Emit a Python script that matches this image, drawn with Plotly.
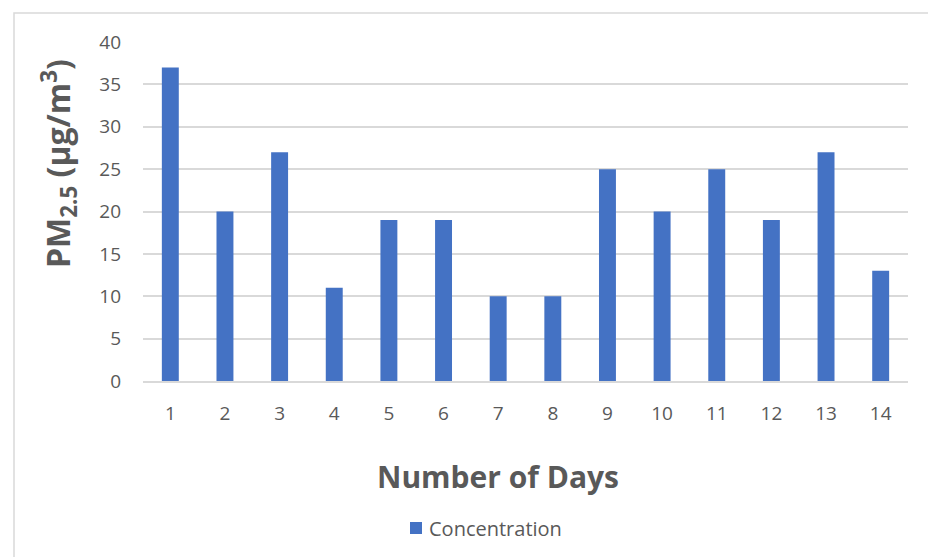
import plotly.graph_objects as go

# Daily PM2.5 concentration over the 14-day campaign
days = [str(d) for d in range(1, 15)]
concentration = [37, 20, 27, 11, 19, 19, 10, 10, 25, 20, 25, 19, 27, 13]
y_ticks = [0, 5, 10, 15, 20, 25, 30, 35, 40]
series_name = "Concentration"

W, H = 928, 557
L, R, T, B = 143, 20, 42, 176
plot_w = W - L - R
plot_h = H - T - B

def px_x(x):
    return (x - L) / plot_w

def px_y(y):
    return (H - B - y) / plot_h

FONT = "'Open Sans', Lato, sans-serif"
GREY = "#595959"
BAR = "#4472C4"

fig = go.Figure()
fig.add_trace(go.Bar(
    x=days, y=concentration, name=series_name,
    marker=dict(color=BAR, line=dict(width=0)),
))

fig.update_layout(
    width=W, height=H,
    margin=dict(l=L, r=R, t=T, b=B),
    paper_bgcolor="white", plot_bgcolor="white",
    bargap=0.69,
    font=dict(family=FONT, color=GREY, size=19),
    showlegend=False,
    xaxis=dict(
        type="category", showgrid=False, showline=True,
        linecolor="#d9d9d9", linewidth=1.5, ticks="",
        ticklabelstandoff=14, tickfont=dict(size=19, color=GREY),
    ),
    yaxis=dict(
        range=[0, 40], tickvals=y_ticks, showgrid=True,
        gridcolor="#d9d9d9", gridwidth=1.5, zeroline=False,
        showline=False, ticks="", ticklabelstandoff=21,
        tickfont=dict(size=19, color=GREY),
    ),
    shapes=[
        # chart frame
        dict(type="rect", xref="paper", yref="paper",
             x0=px_x(14), x1=px_x(940), y0=px_y(570), y1=px_y(13),
             line=dict(color="#d9d9d9", width=1.5), layer="below"),
        # legend swatch
        dict(type="rect", xref="paper", yref="paper",
             x0=px_x(410), x1=px_x(422), y0=px_y(534), y1=px_y(522),
             fillcolor=BAR, line=dict(width=0)),
    ],
    annotations=[
        dict(
            text="<b>PM<sub>2.5</sub> (µg/m<sup>3</sup>)</b>",
            xref="paper", yref="paper", x=px_x(58), y=px_y(164),
            xanchor="center", yanchor="middle", textangle=-90,
            showarrow=False, font=dict(size=32, color=GREY, family=FONT),
        ),
        dict(
            text="<b>Number of Days</b>",
            xref="paper", yref="paper", x=px_x(498), y=px_y(476),
            xanchor="center", yanchor="middle",
            showarrow=False, font=dict(size=30, color=GREY, family=FONT),
        ),
        dict(
            text=series_name,
            xref="paper", yref="paper", x=px_x(427), y=px_y(528),
            xanchor="left", yanchor="middle",
            showarrow=False, font=dict(size=20, color=GREY, family=FONT),
        ),
    ],
)

fig.write_html("out.html")
